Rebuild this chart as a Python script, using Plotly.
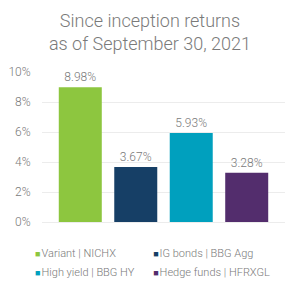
import plotly.graph_objects as go

categories = ["Variant | NICHX", "IG bonds | BBG Agg", "High yield | BBG HY", "Hedge funds | HFRXGL"]
values = [8.98, 3.67, 5.93, 3.28]
labels = ["8.98%", "3.67%", "5.93%", "3.28%"]
colors = ["#8DC63F", "#163F66", "#00A0BE", "#532D6D"]
legend_columns = ["legend", "legend2", "legend", "legend2"]
y_ticks = [0, 2, 4, 6, 8, 10]
y_tick_labels = ["0%", "2%", "4%", "6%", "8%", "10%"]

FONT = "Roboto"
GRAY = "#7a7a7a"

fig = go.Figure()
for c, v, t, col in zip(categories, values, labels, colors):
    fig.add_trace(go.Bar(
        x=[c], y=[v], text=[t], textposition="outside",
        marker=dict(color=col, line=dict(width=0)),
        textfont=dict(family=FONT, size=12, color=GRAY, weight=300),
        cliponaxis=False, showlegend=False, width=0.775,
    ))
for c, col, lg in zip(categories, colors, legend_columns):
    fig.add_trace(go.Scatter(
        x=[None], y=[None], mode="markers",
        name=f"<span style='color:{col};font-size:9px'>■</span><span style='font-size:4px'> </span>{c}",
        marker=dict(symbol="square", size=1, color="rgba(0,0,0,0)",
                    line=dict(width=0, color="rgba(0,0,0,0)")),
        legend=lg, legendgroup=c,
    ))

legend_common = dict(
    orientation="v", yanchor="top", xanchor="left",
    font=dict(family=FONT, size=11, color=GRAY, weight=300),
    itemwidth=30, traceorder="normal", bgcolor="rgba(0,0,0,0)",
    tracegroupgap=1,
)

fig.update_layout(
    template="none",
    width=300, height=285,
    margin=dict(l=42, r=15, t=72, b=63, autoexpand=False),
    paper_bgcolor="white", plot_bgcolor="white",
    barmode="overlay",
    title=dict(
        text="Since inception returns<br>as of September 30, 2021",
        x=0.5, xanchor="center", y=0.905, yanchor="top", yref="container",
        font=dict(family=FONT, size=18, color=GRAY, weight=300),
    ),
    xaxis=dict(
        type="category", categoryorder="array", categoryarray=categories,
        range=[-0.69, 3.69], showticklabels=False, showgrid=False,
        zeroline=False, showline=False, ticks="", automargin=False,
    ),
    yaxis=dict(
        range=[0, 10], tickvals=y_ticks, ticktext=y_tick_labels,
        showgrid=True, gridcolor="#ececec", gridwidth=1,
        zeroline=True, zerolinecolor="#ececec", zerolinewidth=1,
        showline=False, ticks="outside", ticklen=8, tickcolor="rgba(0,0,0,0)",
        tickfont=dict(family=FONT, size=12, color=GRAY, weight=300),
        automargin=False,
    ),
    legend=dict(x=-0.193, y=-0.106, **legend_common),
    legend2=dict(x=0.293, y=-0.106, **legend_common),
    bargap=0.225,
)

fig.write_html("out.html")
